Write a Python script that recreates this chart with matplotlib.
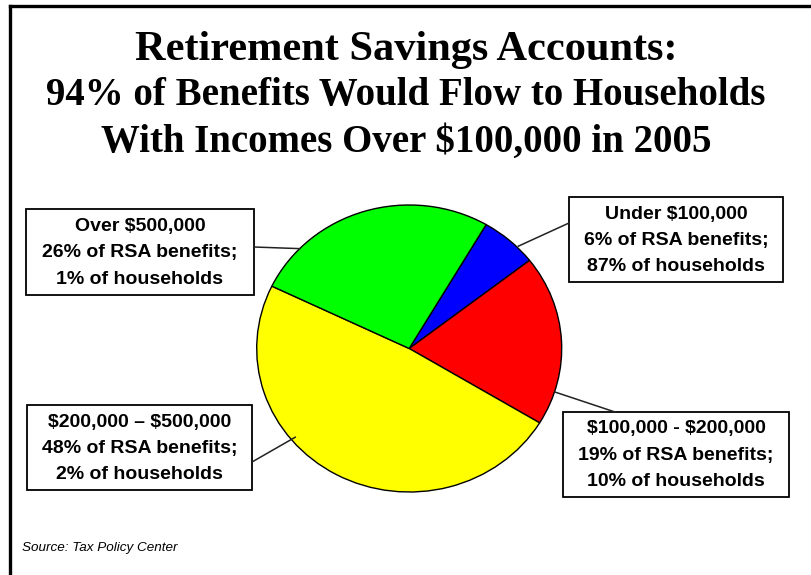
import matplotlib
matplotlib.use("Agg")
import matplotlib.pyplot as plt
from matplotlib.patches import Rectangle
from matplotlib.lines import Line2D
import numpy as np

plt.rcParams["text.parse_math"] = False

# ---- data ----
categories = ["Under $100,000", "$100,000 - $200,000", "$200,000 \u2013 $500,000", "Over $500,000"]
benefit_share = [6, 19, 48, 26]
household_share = [87, 10, 2, 1]
colors = ["#0000FF", "#FF0000", "#FFFF00", "#00FF00"]
title_lines = ["Retirement Savings Accounts:",
               "94% of Benefits Would Flow to Households",
               "With Incomes Over $100,000 in 2005"]
source = "Source: Tax Policy Center"

W, H = 812, 575
fig = plt.figure(figsize=(W / 100, H / 100), dpi=100)
fig.patch.set_facecolor("white")

def fx(x):
    return x / W

def fy(y):
    return 1 - y / H

# frame lines (top and left)
fig.add_artist(Line2D([fx(10.5), fx(812)], [fy(6), fy(6)], color="black", lw=2.4, transform=fig.transFigure))
fig.add_artist(Line2D([fx(10.5), fx(10.5)], [fy(6), fy(575)], color="black", lw=2.4, transform=fig.transFigure))

# title
for line, base, size in zip(title_lines, [60, 105, 152], [30.5, 28, 28]):
    fig.text(0.5, fy(base), line, ha="center", va="baseline",
             fontfamily="Liberation Serif", fontweight="bold", fontsize=size)

# pie axes (elliptical pie)
cx, cy, rx, ry = 409.2, 348.5, 152.5, 143.5
m = 1.1
ax = fig.add_axes([fx(cx - rx * m), fy(cy + ry * m), 2 * rx * m / W, 2 * ry * m / H])
wedges, _ = ax.pie(benefit_share, colors=colors, startangle=59.7, counterclock=False,
                   wedgeprops=dict(edgecolor="black", linewidth=1.0))
ax.set_aspect("auto")
ax.set_xlim(-m, m)
ax.set_ylim(-m, m)
ax.axis("off")

# label boxes: (center x, center y, width, height) in pixels, anchor angle on pie, box attach point
boxes = [
    (676, 239.5, 214, 85, 44.9, 1.01, (569, 223)),
    (676, 454.5, 226, 85, -17.6, 1.0, (615, 412)),
    (139.5, 447.5, 225, 85, 219.6, 0.97, (252, 462)),
    (140, 252, 228, 86, 135.9, 1.0, (254, 247)),
]

for i, (bx, by, bw, bh, ang, r, attach) in enumerate(boxes):
    fig.add_artist(Rectangle((fx(bx - bw / 2), fy(by + bh / 2)), bw / W, bh / H,
                             transform=fig.transFigure, facecolor="white",
                             edgecolor="black", lw=1.3))
    lines = [categories[i],
             f"{benefit_share[i]}% of RSA benefits;",
             f"{household_share[i]}% of households"]
    for k, t in enumerate(lines):
        fig.text(fx(bx), fy(by - 25.5 + 26.3 * k), t, ha="center", va="center",
                 fontfamily="Liberation Sans", fontweight="bold", fontsize=14)
    a = np.deg2rad(ang)
    px = cx + r * rx * np.cos(a)
    py = cy - r * ry * np.sin(a)
    fig.add_artist(Line2D([fx(px), fx(attach[0])], [fy(py), fy(attach[1])],
                          color="#222222", lw=1.1, transform=fig.transFigure))

fig.text(fx(22), fy(548), source, ha="left", va="center",
         fontfamily="Liberation Sans", fontstyle="italic", fontsize=9.7)

fig.savefig("out.png", dpi=100)
